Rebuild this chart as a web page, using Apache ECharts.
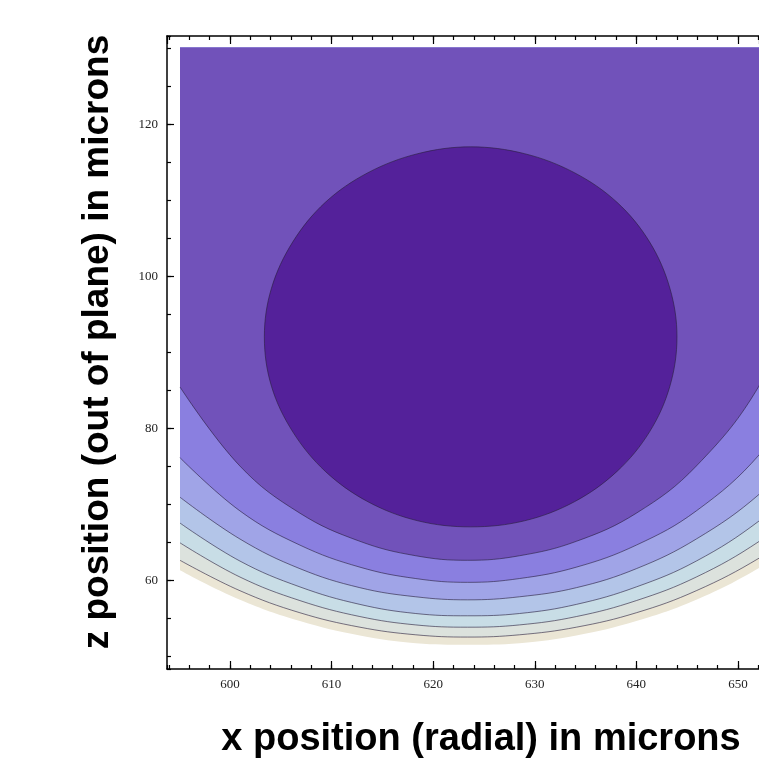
<!DOCTYPE html>
<html>
<head>
<meta charset="utf-8">
<script src="https://cdn.jsdelivr.net/npm/echarts@6/dist/echarts.min.js"></script>
<style>
  html, body { margin: 0; padding: 0; background: #fff; }
  #chart { width: 759px; height: 761px; }
</style>
</head>
<body>
<div id="chart"></div>
<script>
// x positions (microns) where the open contour curves were read
const xs = [595.1, 601.0, 606.9, 612.8, 618.3, 623.4, 628.5, 634.1, 640.0, 645.9, 652.1, 657.0];
// z of each contour boundary at xs, outermost first
const zOuter = [61.3, 57.4, 54.6, 52.7, 51.7, 51.5, 51.7, 52.7, 54.6, 57.4, 61.6, 66.0];
const zC7    = [62.6, 58.6, 55.7, 53.8, 52.8, 52.5, 52.8, 53.8, 55.7, 58.6, 62.9, 67.4];
const zC6    = [64.9, 60.4, 57.3, 55.2, 54.1, 53.8, 54.1, 55.2, 57.3, 60.4, 65.1, 70.2];
const zC5    = [67.5, 62.5, 59.1, 56.8, 55.6, 55.3, 55.6, 56.8, 59.1, 62.5, 67.8, 73.6];
const zC4    = [70.9, 65.4, 61.5, 59.0, 57.8, 57.4, 57.8, 59.0, 61.5, 65.4, 71.3, 78.1];
const zC3    = [76.1, 69.1, 64.6, 61.7, 60.2, 59.7, 60.2, 61.7, 64.6, 69.1, 76.5, 85.9];
const zC2    = [85.4, 75.0, 68.8, 65.1, 63.2, 62.6, 63.2, 65.1, 68.8, 75.0, 85.6, 100.0];
// closed inner contour (darkest)
const innerX = [644.0, 643.3, 641.3, 638.1, 633.9, 629.0, 623.7, 618.5, 613.6, 609.4, 606.2, 604.1,
                603.4, 604.1, 606.2, 609.4, 613.6, 618.5, 623.7, 629.0, 633.9, 638.1, 641.3, 643.3];
const innerZ = [92.0, 98.4, 104.5, 109.7, 113.6, 116.1, 117.0, 116.1, 113.6, 109.7, 104.5, 98.4,
                92.0, 85.5, 79.5, 74.3, 70.3, 67.8, 67.0, 67.8, 70.3, 74.3, 79.5, 85.5];

const openCurves = [zOuter, zC7, zC6, zC5, zC4, zC3, zC2];
const bandColors = ['#EBE6D5', '#DCE2DD', '#C8DDE6', '#B3C5E8', '#A0A4E7', '#8A7FE0', '#7152BA'];
const innerColor = '#54219A';
const lineColor = 'rgba(40,30,60,0.6)';

const xRange = { min: 593.8, max: 652.07 };
const zRange = { min: 48.3, max: 131.6 };
const dataTop = 130.07;

const chart = echarts.init(document.getElementById('chart'));

const labelFont = { fontFamily: '"Liberation Serif", "DejaVu Serif", serif', fontSize: 13, color: '#222' };
const axLine = { show: true, lineStyle: { color: '#000', width: 1.5 } };

function tickAxis(kind, grid, pos, step, len, labels) {
  const r = kind === 'x' ? xRange : zRange;
  return {
    gridIndex: grid, type: 'value', position: pos, min: r.min, max: r.max,
    minInterval: step, maxInterval: step,
    axisLine: labels !== null ? axLine : { show: false },
    axisTick: { show: true, inside: true, length: len, lineStyle: { color: '#000', width: 1.2 } },
    axisLabel: labels ? Object.assign({ margin: 9, showMinLabel: false, showMaxLabel: false }, labelFont) : { show: false },
    splitLine: { show: false }
  };
}

const series = openCurves.map((zs, k) => ({
  type: 'line',
  xAxisIndex: 4,
  yAxisIndex: 2,
  z: 2,
  data: xs.map((x, i) => [x, zs[i]]),
  smooth: 0.4,
  symbol: 'none',
  silent: true,
  lineStyle: k === 0 ? { width: 0 } : { color: lineColor, width: 1 },
  areaStyle: { color: bandColors[k], opacity: 1, origin: 'end' }
}));

series.push({
  type: 'custom',
  xAxisIndex: 4,
  yAxisIndex: 2,
  z: 5,
  silent: true,
  clip: true,
  data: [[innerX[0], innerZ[0]]],
  renderItem: function (params, api) {
    const pts = innerX.map((x, i) => api.coord([x, innerZ[i]]));
    return {
      type: 'polygon',
      shape: { points: pts, smooth: 0.35 },
      style: { fill: innerColor, stroke: lineColor, lineWidth: 1 }
    };
  }
});

const option = {
  animation: false,
  backgroundColor: '#fff',
  grid: [
    { left: 167, top: 36, right: 0, bottom: 92 },  // major ticks
    { left: 167, top: 36, right: 0, bottom: 92 },  // minor ticks
    { left: 180, top: 47.5, right: 0, bottom: 92 } // contour area
  ],
  xAxis: [
    tickAxis('x', 0, 'bottom', 10, 8, true),
    tickAxis('x', 0, 'top', 10, 8, false),
    tickAxis('x', 1, 'bottom', 2, 4, null),
    tickAxis('x', 1, 'top', 2, 4, null),
    { gridIndex: 2, type: 'value', min: xs[0], max: xRange.max, show: false }
  ],
  yAxis: [
    tickAxis('z', 0, 'left', 20, 7, true),
    tickAxis('z', 1, 'left', 5, 4, null),
    { gridIndex: 2, type: 'value', min: zRange.min, max: dataTop, show: false }
  ],
  graphic: [
    {
      type: 'text', x: 481, y: 740, silent: true,
      style: {
        text: 'x position (radial) in microns',
        font: 'bold 38px "Liberation Sans", Arial, sans-serif',
        fill: '#000', textAlign: 'center', textVerticalAlign: 'middle'
      }
    },
    {
      type: 'text', x: 98, y: 342, rotation: Math.PI / 2, silent: true,
      style: {
        text: 'z position (out of plane) in microns',
        font: 'bold 37px "Liberation Sans", Arial, sans-serif',
        fill: '#000', textAlign: 'center', textVerticalAlign: 'middle'
      }
    }
  ],
  series: series
};

chart.setOption(option);
</script>
</body>
</html>
